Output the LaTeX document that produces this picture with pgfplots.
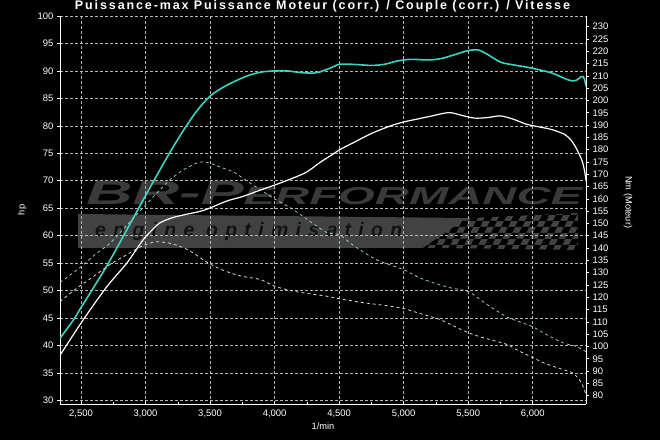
\documentclass[border=0pt]{standalone}
\usepackage{fontspec}
\setmainfont{Liberation Sans}
\newfontfamily\titlefont[LetterSpace=15]{Liberation Sans}
\newfontfamily\wmfont[LetterSpace=38]{Liberation Sans}
\usepackage{graphicx}
\usepackage{pgfplots}
\pgfplotsset{compat=1.18}
\usepackage{pgfplotstable}
\definecolor{tcyan}{HTML}{3CD4C0}
\definecolor{tqcyan}{HTML}{9CC4C0}
\definecolor{tqwhite}{HTML}{DCDCDC}
\definecolor{gridc}{HTML}{B4B4B4}
\definecolor{wmtext}{HTML}{3A3A3A}
\definecolor{wmband}{HTML}{424242}
\definecolor{wmdark}{HTML}{121212}

% Tuned power (hp)
\pgfplotstableread{
rpm hp
2337 41.3
2440 44.6
2500 46.9
2700 54.5
2900 63.0
3000 67.3
3100 71.5
3200 75.6
3300 79.4
3400 82.8
3500 85.4
3600 87.0
3700 88.2
3800 89.2
3900 89.8
4000 90.0
4100 90.0
4200 89.7
4300 89.6
4350 89.8
4450 90.7
4500 91.2
4600 91.2
4750 91.0
4850 91.2
4950 91.8
5050 92.1
5200 92.0
5300 92.3
5400 93.0
5500 93.7
5580 93.8
5650 93.0
5750 91.6
5850 91.1
5950 90.7
6050 90.2
6150 89.6
6250 88.6
6300 88.2
6340 88.3
6380 89.0
6400 88.6
6413 87.2
}\tunedpower

% Stock power (hp)
\pgfplotstableread{
rpm hp
2337 38.2
2515 44.6
2700 50.7
2855 55.0
2980 59.2
3050 61.0
3110 62.3
3200 63.2
3300 63.8
3450 64.6
3630 66.3
3750 67.1
3890 68.3
4000 69.2
4145 70.5
4250 71.6
4350 73.3
4450 74.8
4500 75.6
4600 76.8
4750 78.6
4900 80.0
5000 80.7
5100 81.2
5200 81.7
5350 82.4
5450 81.9
5550 81.4
5650 81.5
5750 81.8
5850 81.2
5950 80.3
6050 79.8
6150 79.3
6250 78.4
6300 77.3
6340 75.8
6380 73.8
6400 72.0
6413 70.1
}\stockpower

% Tuned torque (Nm)
\pgfplotstableread{
rpm nm
2337 126
2490 132
2600 137
2725 142
2850 149
2980 156.4
3100 163
3190 167.8
3300 172
3420 175
3500 174.5
3600 172.5
3680 171
3780 167.5
3890 163.7
4000 160
4145 155.6
4270 151
4405 146.3
4500 145.4
4600 141.5
4685 138.5
4800 135
5000 131.2
5100 128.5
5205 126.3
5350 124
5500 122.3
5600 118.8
5670 116.2
5800 112
5900 110
6000 108
6100 105
6235 101.5
6340 99.9
6413 97.9
}\tunedtorque

% Stock torque (Nm)
\pgfplotstableread{
rpm nm
2337 118.2
2450 123
2595 128.4
2730 133.5
2855 137.3
2960 140.5
3060 142.4
3120 142.5
3200 141.8
3300 140
3370 138
3500 133.5
3630 130.4
3750 128.5
3890 127.2
4000 124.5
4145 122.5
4300 121.2
4430 120.2
4500 119.4
4685 117.8
4850 116.7
5000 115.4
5150 113
5280 111
5400 108
5500 105.6
5600 103.8
5670 102.8
5800 100.8
5900 98
6000 95.5
6100 93
6235 90.6
6300 89.5
6340 87.8
6380 85
6413 80.4
}\stocktorque

\pgfplotsset{
  dynoaxis/.style={
    at={(60bp,36bp)}, anchor=south west,
    scale only axis, width=526bp, height=388bp,
    xmin=2337, xmax=6413,
    axis line style={draw=white, line width=1pt, -},
    tick label style={text=white, font=\fontsize{9.5}{11}\selectfont},
    label style={text=white, font=\fontsize{9.3}{11}\selectfont},
    /pgf/number format/assume math mode=true,
    /pgf/number format/1000 sep={,},
    scaled ticks=false,
    major tick length=3bp,
    minor tick length=2bp,
    tick style={white, line width=0.6pt},
  }
}

\begin{document}
\begin{tikzpicture}
\fill[black] (0,0) rectangle (660bp,440bp);

% watermark: band and chequered flag
\fill[wmband] (78bp,192bp) -- (440bp,192bp) -- (578bp,190bp) -- (578bp,227bp) -- (470bp,222bp) -- (78bp,226bp) -- cycle;
\begin{scope}
  \clip (420bp,190bp) -- (578bp,190bp) -- (578bp,228bp) -- (470bp,224bp) -- cycle;
  \foreach \i in {0,...,24} {
    \foreach \j in {0,...,6} {
      \pgfmathtruncatemacro\k{mod(\i+\j,2)}
      \ifnum\k=0
        \fill[black] ({(405+7*\i+3*\j)*1bp},{(189+6*\j)*1bp}) -- ++(7bp,0) -- ++(3bp,6bp) -- ++(-7bp,0) -- cycle;
      \fi
    }
  }
\end{scope}
\node[anchor=south west, inner sep=0pt, text=wmtext] at (86bp,235bp)
  {\resizebox{496bp}{23bp}{\bfseries\itshape {\fontsize{30}{30}\selectfont BR-P}{\fontsize{22}{22}\selectfont ERFORMANCE}}};
\node[anchor=base west, inner sep=0pt, text=wmdark] at (95bp,203bp)
  {\resizebox{307bp}{!}{\wmfont\bfseries\itshape\fontsize{17}{17}\selectfont engine\hspace{0.6em}optimisation}};

% left axis: hp
\begin{axis}[dynoaxis,
  ymin=29.33, ymax=100,
  axis x line*=bottom, axis y line*=left,
  xtick={2500,3000,...,6000},
  ytick={30,35,...,100},
  minor x tick num=1,
  xtick align=inside, ytick align=outside,
  xticklabel style={yshift=-2bp},
  grid=major,
  major grid style={gridc, line width=0.6pt, dash pattern=on 2.5bp off 2.5bp},
  xlabel={1/min}, ylabel={hp},
  xlabel style={at={(axis description cs:0.5,-0.057)}, anchor=center},
  ylabel style={at={(axis description cs:-0.072,0.5)}, anchor=center},
]
\addplot[tcyan, line width=1.6pt, smooth] table[x=rpm, y=hp] {\tunedpower};
\addplot[white, line width=1.2pt, smooth] table[x=rpm, y=hp] {\stockpower};
\end{axis}

% right axis: Nm
\begin{axis}[dynoaxis,
  ymin=76.6, ymax=234.35,
  axis x line=none, axis y line*=right,
  ytick={80,85,...,230},
  ytick align=outside,
  ylabel={Nm (Moteur)},
  ylabel style={at={(axis description cs:1.08,0.52)}, anchor=center, rotate=180},
]
\addplot[tqcyan, line width=0.8pt, dash pattern=on 3bp off 3bp, smooth] table[x=rpm, y=nm] {\tunedtorque};
\addplot[tqwhite, line width=0.8pt, dash pattern=on 3bp off 3bp, smooth] table[x=rpm, y=nm] {\stocktorque};
\end{axis}

\node[text=white, inner sep=0pt] at (322.5bp,434bp)
  {\resizebox{495bp}{!}{\titlefont\bfseries\fontsize{10}{12}\selectfont Puissance-max Puissance Moteur (corr.) / Couple (corr.) / Vitesse}};

\pgfresetboundingbox
\path (0,0) rectangle (660bp,440bp);
\end{tikzpicture}
\end{document}
